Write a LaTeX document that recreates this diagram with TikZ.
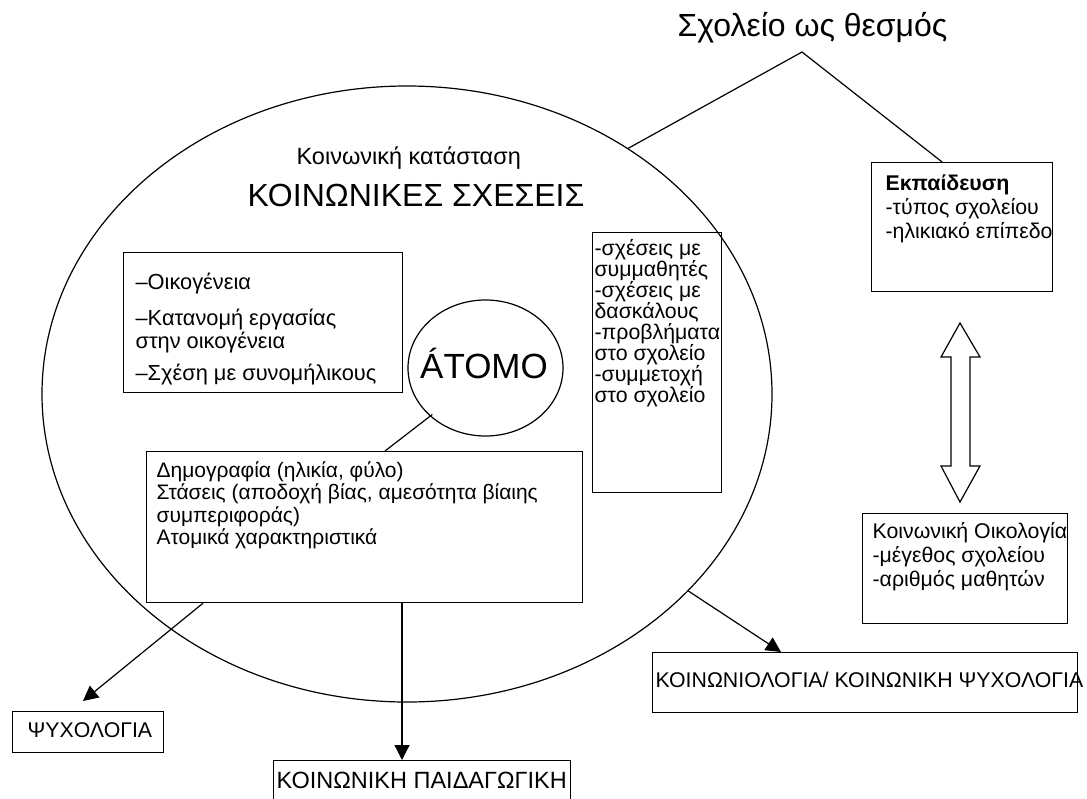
\documentclass[tikz,border=0pt]{standalone}
\usepackage{fontspec}
\setmainfont{Liberation Sans}
\usetikzlibrary{arrows.meta,shapes.geometric}
\begin{document}
\begin{tikzpicture}[x=1pt, y=-1pt, line width=1.2pt,
    box/.style={draw, inner sep=0pt, anchor=north west},
    txt/.style={inner sep=0pt, anchor=north west, align=left,
        font=\fontsize{21.3}{22.5}\selectfont, execute at begin node=\strut},
    big/.style={inner sep=0pt, anchor=base west, font=\fontsize{32}{36}\selectfont},
    arr/.style={-{Triangle[length=15pt,width=15pt]}}]
    \useasboundingbox (0,0) rectangle (1087,798);
    % main ellipse and the person in it
    \node[ellipse, draw, minimum width=730pt, minimum height=616pt] (soc) at (407,394) {};
    \node[ellipse, draw, minimum width=155pt, minimum height=136pt, inner sep=0pt] (atom) at (485.5,368) {};
    \node[inner sep=0pt, anchor=base, font=\fontsize{35}{38}\selectfont] (atomtxt) at (484,378) {ÁΤΟΜΟ};
    \node[big] (title) at (677,36) {Σχολείο ως θεσμός};
    \node[txt, font=\fontsize{23.5}{25}\selectfont] (state) at (296,146) {Κοινωνική κατάσταση};
    \node[big] (rel) at (247,206) {ΚΟΙΝΩΝΙΚΕΣ ΣΧΕΣΕΙΣ};
    % boxes
    \node[box, minimum width=279pt, minimum height=140pt] (fam) at (123,252) {};
    \node[box, minimum width=129pt, minimum height=260pt] (school) at (592,232) {};
    \node[box, minimum width=436pt, minimum height=151pt] (demog) at (146,451) {};
    \node[box, minimum width=181pt, minimum height=129pt] (edu) at (871,162) {};
    \node[box, minimum width=205pt, minimum height=110pt] (eco) at (862,513) {};
    \node[box, minimum width=425pt, minimum height=60pt] (socio) at (652,652) {};
    \node[box, minimum width=151pt, minimum height=41pt] (psy) at (12,711) {};
    \node[box, minimum width=297pt, minimum height=60pt] (pedag) at (273,760) {};
    % texts of the boxes
    \node[txt, font=\fontsize{21.8}{22.5}\selectfont] at (135,272) {–Οικογένεια\\[14pt]–Κατανομή εργασίας\\στην οικογένεια\\[10pt]–Σχέση με συνομήλικους};
    \node[txt, font=\fontsize{21.3}{21}\selectfont] at (594,239) {-σχέσεις με\\συμμαθητές\\-σχέσεις με\\δασκάλους\\-προβλήματα\\στο σχολείο\\-συμμετοχή\\στο σχολείο};
    \node[txt, font=\fontsize{21}{22.5}\selectfont] at (156,461) {Δημογραφία (ηλικία, φύλο)\\Στάσεις (αποδοχή βίας, αμεσότητα βίαιης\\συμπεριφοράς)\\Ατομικά χαρακτηριστικά};
    \node[txt, font=\fontsize{21.3}{24}\selectfont] at (885,174) {\textbf{Εκπαίδευση}\\-τύπος σχολείου\\-ηλικιακό επίπεδο};
    \node[txt, font=\fontsize{21.3}{24}\selectfont] at (872,522) {Κοινωνική Οικολογία\\-μέγεθος σχολείου\\-αριθμός μαθητών};
    \node[txt] at (655,671) {ΚΟΙΝΩΝΙΟΛΟΓΙΑ/ ΚΟΙΝΩΝΙΚΗ ΨΥΧΟΛΟΓΙΑ};
    \node[txt] at (27,721) {ΨΥΧΟΛΟΓΙΑ};
    \node[txt, font=\fontsize{23.5}{25}\selectfont] at (276,770) {ΚΟΙΝΩΝΙΚΗ ΠΑΙΔΑΓΩΓΙΚΗ};
    % school as institution
    \coordinate (apex) at (802,52);
    \draw (soc.48) -- (apex) -- ([xshift=-20pt]edu.north);
    \draw[shorten >=-3pt] (demog.north -| 385,0) -- (atom.-139);
    % double arrow between education and ecology
    \draw (960,323) -- (980,357) -- (970,357) -- (970,466) -- (980,466) -- (960,502)
        -- (941,466) -- (951,466) -- (951,357) -- (941,357) -- cycle;
    % arrows to the disciplines
    \draw[arr] (demog.south -| 203,0) -- ([yshift=10pt]psy.north -| 83,0);
    \draw[arr] (demog.south -| 402,0) -- (pedag.north -| 402,0);
    \draw[arr] (soc.-35) -- (socio.north -| 781,0);
\end{tikzpicture}
\end{document}
